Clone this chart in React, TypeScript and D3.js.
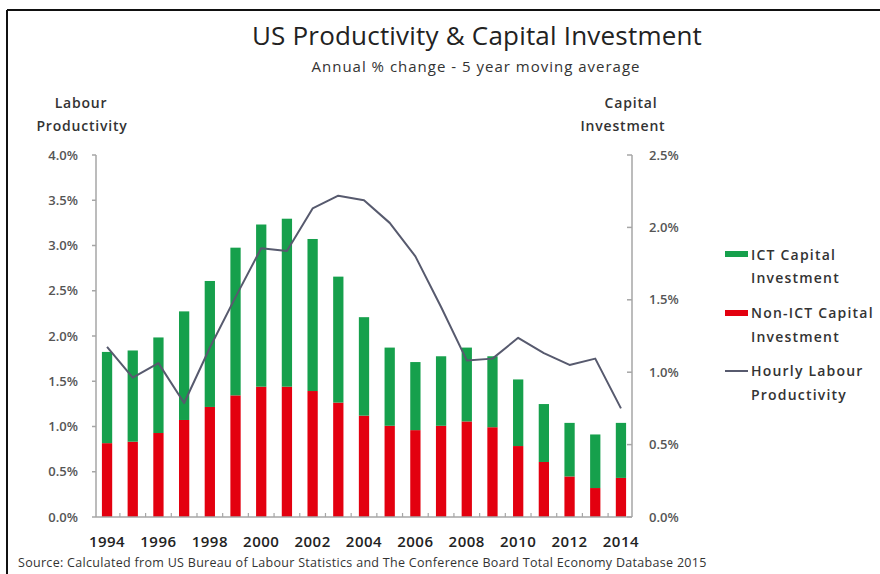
import React from "react";
import * as d3 from "d3";

const years = [1994,1995,1996,1997,1998,1999,2000,2001,2002,2003,2004,2005,2006,2007,2008,2009,2010,2011,2012,2013,2014];
const nonIctCapital = [0.51,0.52,0.58,0.67,0.76,0.84,0.90,0.90,0.87,0.79,0.70,0.63,0.60,0.63,0.66,0.62,0.49,0.38,0.28,0.20,0.27];
const ictCapital = [0.63,0.63,0.66,0.75,0.87,1.02,1.12,1.16,1.05,0.87,0.68,0.54,0.47,0.48,0.51,0.49,0.46,0.40,0.37,0.37,0.38];
const labourProductivity = [1.88,1.54,1.70,1.26,1.87,2.43,2.97,2.94,3.41,3.55,3.50,3.25,2.88,2.32,1.73,1.75,1.98,1.81,1.68,1.75,1.20];
const leftTicks = [0,0.5,1,1.5,2,2.5,3,3.5,4];
const rightTicks = [0,0.5,1,1.5,2,2.5];
const yearLabels = [1994,1996,1998,2000,2002,2004,2006,2008,2010,2012,2014];

const W = 880, H = 574;
const FONT = "'Open Sans', sans-serif";
const GREEN = "#16a04c";
const RED = "#e3000f";
const LINE = "#575a6e";
const AXIS = "#a6a6a6";

export default function App() {
  const x0 = 96, x1 = 632, yTop = 155, yBot = 517;
  const x = d3.scaleBand<number>().domain(years).range([x0, x1]).paddingInner(0.6).paddingOuter(0.23);
  const yL = d3.scaleLinear().domain([0, 4]).range([yBot, yTop]);
  const yR = d3.scaleLinear().domain([0, 2.5]).range([yBot, yTop]);
  const bw = x.bandwidth();
  const step = x.step();
  const cx = (yr: number) => (x(yr) as number) + bw / 2;
  const line = d3.line<number>().x((_, i) => cx(years[i])).y((d) => yL(d));
  const fmt = (v: number) => v.toFixed(1) + "%";
  const lab = { fontSize: 14, fontWeight: 600, fill: "#333", letterSpacing: 0.8 } as const;
  const leg = { fontSize: 14, fontWeight: 600, fill: "#333", letterSpacing: 1.2 } as const;

  return (
    <svg width={W} height={H} style={{ position: "absolute", left: 0, top: 0, background: "#fff" }} fontFamily={FONT}>
      <rect x={0} y={0} width={W} height={H} fill="#fff" />
      <line x1={7} y1={10} x2={W} y2={10} stroke="#111" strokeWidth={2} />
      <line x1={7} y1={10} x2={7} y2={H} stroke="#111" strokeWidth={2} />

      <text x={477} y={45} textAnchor="middle" fontSize={26} fill="#222" letterSpacing={0.2}>US Productivity &amp; Capital Investment</text>
      <text x={476} y={72} textAnchor="middle" fontSize={15} fill="#333" letterSpacing={1}>Annual % change - 5 year moving average</text>

      <text x={81} y={108} textAnchor="middle" {...lab}>Labour</text>
      <text x={82} y={131} textAnchor="middle" {...lab}>Productivity</text>
      <text x={631} y={108} textAnchor="middle" {...lab}>Capital</text>
      <text x={623} y={131} textAnchor="middle" {...lab}>Investment</text>

      {/* axes */}
      <line x1={x0} y1={yTop} x2={x0} y2={yBot} stroke={AXIS} strokeWidth={1.5} />
      <line x1={x1} y1={yTop} x2={x1} y2={yBot} stroke={AXIS} strokeWidth={1.5} />
      {leftTicks.map((t) => (
        <g key={"l" + t}>
          <line x1={x0 - 4} x2={x0} y1={yL(t)} y2={yL(t)} stroke={AXIS} strokeWidth={1.5} />
          <text x={78} y={yL(t)} dy="0.35em" textAnchor="end" fontSize={13} fontWeight={600} fill="#555">{fmt(t)}</text>
        </g>
      ))}
      {rightTicks.map((t) => (
        <g key={"r" + t}>
          <line x1={x1 - 5} x2={x1} y1={yR(t)} y2={yR(t)} stroke={AXIS} strokeWidth={1.5} />
          <text x={649} y={yR(t)} dy="0.35em" textAnchor="start" fontSize={13} fontWeight={600} fill="#555">{fmt(t)}</text>
        </g>
      ))}

      {/* bars */}
      {years.map((yr, i) => {
        const bx = x(yr) as number;
        const n = nonIctCapital[i];
        const t = n + ictCapital[i];
        return (
          <g key={yr}>
            <rect x={bx} y={yR(n)} width={bw} height={yR(0) - yR(n)} fill={RED} />
            <rect x={bx} y={yR(t)} width={bw} height={yR(n) - yR(t)} fill={GREEN} />
          </g>
        );
      })}

      <line x1={x0} y1={yBot} x2={x1} y2={yBot} stroke={AXIS} strokeWidth={1.5} />
      {years.slice(1).map((yr) => (
        <line key={"t" + yr} x1={cx(yr) - step / 2} x2={cx(yr) - step / 2} y1={yBot} y2={yBot - 4} stroke={AXIS} strokeWidth={1.2} />
      ))}

      <path d={line(labourProductivity) || ""} fill="none" stroke={LINE} strokeWidth={2} strokeLinejoin="round" />

      {yearLabels.map((yr) => (
        <text key={"y" + yr} x={cx(yr)} y={542} dy="0.35em" textAnchor="middle" fontSize={15} fontWeight={600} fill="#222" letterSpacing={0.5}>{yr}</text>
      ))}

      <text x={18} y={563} dy="0.35em" fontSize={12.5} fill="#333" letterSpacing={0.3}>Source: Calculated from US Bureau of Labour Statistics and The Conference Board Total Economy Database 2015</text>

      {/* legend */}
      <rect x={725} y={251} width={23} height={6} fill={GREEN} />
      <text x={751} y={255} dy="0.35em" {...leg}>ICT Capital</text>
      <text x={751} y={278} dy="0.35em" {...leg}>Investment</text>
      <rect x={725} y={310} width={23} height={6} fill={RED} />
      <text x={751} y={313} dy="0.35em" {...leg}>Non-ICT Capital</text>
      <text x={751} y={337} dy="0.35em" {...leg}>Investment</text>
      <line x1={725} x2={748} y1={371} y2={371} stroke={LINE} strokeWidth={2} />
      <text x={751} y={371} dy="0.35em" {...leg}>Hourly Labour</text>
      <text x={751} y={395} dy="0.35em" {...leg}>Productivity</text>
    </svg>
  );
}
